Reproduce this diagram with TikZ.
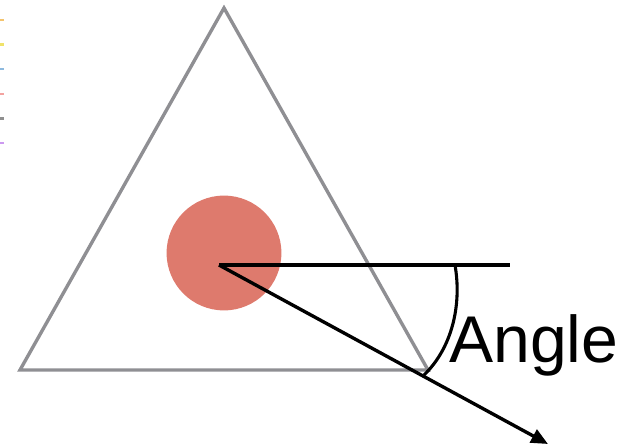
\documentclass[tikz,border=0pt]{standalone}
\usepackage{fontspec}
\setsansfont{Liberation Sans}
\usetikzlibrary{arrows.meta,positioning,calc}
\definecolor{frame}{HTML}{8F8F93}
\definecolor{ball}{HTML}{DE7A6D}
\definecolor{tickA}{HTML}{F4C46E}
\definecolor{tickB}{HTML}{F0E36A}
\definecolor{tickC}{HTML}{8DB9DE}
\definecolor{tickD}{HTML}{F3A3A0}
\definecolor{tickE}{HTML}{8F8F8F}
\definecolor{tickF}{HTML}{CC99F0}
\tikzset{
  tri/.style={draw=frame, line width=2.4pt, line join=miter},
  ballnode/.style={circle, fill=ball, minimum size=2.87cm, inner sep=0pt},
  ray/.style={draw=black, line width=2.4pt},
  rayarr/.style={ray, -{Triangle[length=4.2mm, width=3.6mm]}},
  anglearc/.style={draw=black, line width=2.2pt},
  marktick/.style={line width=1.6pt}
}

\begin{document}
\begin{tikzpicture}[x=0.025cm, y=-0.025cm]
  \useasboundingbox (0,0) rectangle (641,448);
  % little legend ticks on the left edge
  \foreach \c [count=\i] in {tickA,tickB,tickC,tickD,tickE,tickF}
    \draw[marktick, draw=\c] (0,{20+24.6*(\i-1)}) -- (4,{20+24.6*(\i-1)});
  % triangle
  \coordinate (top) at (224,8);
  \coordinate (bl) at (20,370);
  \coordinate (br) at (428,370);
  \draw[tri] (top) -- (bl) -- (br) -- cycle;
  % ball and rays
  \node[ballnode] (ball) at (224,253) {};
  \coordinate (c) at (219,265);
  \coordinate (hend) at (510,265);
  \coordinate (tip) at (548,444);
  \coordinate (arcA) at (455,265);
  \coordinate (arcB) at (424,375);
  \draw[ray] (c) -- (hend);
  \draw[rayarr] (c) -- (tip);
  \draw[anglearc] (arcA) .. controls (462,305) and (452,348) .. (arcB);
  \node[anchor=base west, inner sep=0pt, font=\sffamily\fontsize{47}{50}\selectfont] (angle) at (449,362) {Angle};
\end{tikzpicture}
\end{document}
